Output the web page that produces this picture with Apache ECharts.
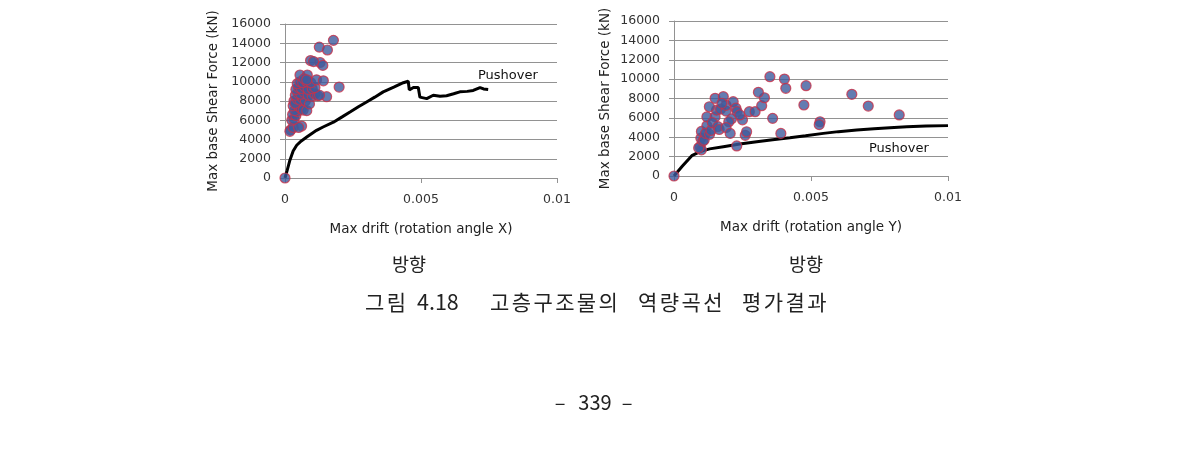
<!DOCTYPE html>
<html>
<head>
<meta charset="utf-8">
<script src="https://cdn.jsdelivr.net/npm/echarts@6/dist/echarts.min.js"></script>
<style>
html,body{margin:0;padding:0;background:#fff;}
#c{width:1190px;height:471px;}
</style>
</head>
<body>
<div id="c"></div>
<script>
// ---- data ----
const yTicksMax = 16000;
const yInterval = 2000;
const xMax = 0.01;
const xInterval = 0.005;

const scatterX = [
  [0,0],
  [0.00021,5000],[0.00018,4850],[0.00030,5250],[0.00061,5400],[0.00050,5250],
  [0.00025,6000],[0.00033,6100],[0.00028,6600],[0.00040,6500],[0.00045,6900],[0.00035,7000],
  [0.00030,7500],[0.00042,7600],[0.00052,7400],[0.00060,7200],[0.00067,7060],[0.00080,7000],
  [0.00033,8000],[0.00037,7760],[0.00045,8200],[0.00055,8100],[0.00065,8300],[0.00075,8000],[0.00090,7700],
  [0.00038,8600],[0.00048,8800],[0.00058,8700],[0.00070,8900],[0.00085,8600],[0.00100,8500],
  [0.00110,8750],[0.00120,8550],[0.00153,8450],[0.00127,8600],
  [0.00040,9200],[0.00050,9400],[0.00060,9300],[0.00072,9500],[0.00085,9200],[0.00100,9300],[0.00110,9400],
  [0.00045,9800],[0.00055,10000],[0.00065,9900],[0.00080,10000],[0.00095,9900],[0.00199,9450],
  [0.00055,10700],[0.00082,10700],[0.00070,10300],[0.00080,10200],[0.00116,10200],[0.00141,10100],
  [0.00094,12200],[0.00129,12000],[0.00139,11700],[0.00105,12100],
  [0.00126,13600],[0.00156,13300],[0.00178,14300]
];

const pushoverX = [
  [0,0],[0.00008,800],[0.00018,1850],[0.00030,2800],[0.00043,3400],[0.00060,3850],[0.00080,4250],
  [0.00100,4650],[0.00116,4950],[0.00140,5300],[0.00178,5800],[0.00210,6350],[0.00239,6850],
  [0.00270,7400],[0.00300,7900],[0.00330,8400],[0.00361,8950],[0.00400,9450],[0.00435,9900],
  [0.00453,10050],[0.00457,9150],[0.00472,9400],[0.00490,9400],[0.00496,8400],[0.00521,8250],
  [0.00545,8600],[0.00570,8500],[0.00594,8550],[0.00620,8750],[0.00643,8950],[0.00670,9000],
  [0.00692,9100],[0.00717,9400],[0.00730,9250],[0.00747,9200]
];

const scatterY = [
  [0,0],
  [0.00095,3030],[0.00100,2700],[0.00090,2900],[0.00098,3900],[0.00105,3600],[0.00100,4600],[0.00110,3700],
  [0.00120,5200],[0.00115,4400],[0.00120,6100],[0.00130,4300],[0.00135,4700],[0.00150,6100],[0.00140,5500],
  [0.00155,6800],[0.00160,5100],[0.00170,6900],[0.00165,4800],[0.00129,7150],[0.00150,8020],[0.00180,8190],
  [0.00190,6700],[0.00190,7300],[0.00175,7500],[0.00216,7670],[0.00226,7000],[0.00230,6650],[0.00210,5900],
  [0.00200,5600],[0.00250,5800],[0.00190,5000],[0.00205,4400],[0.00229,3100],[0.00260,4200],[0.00265,4570],
  [0.00275,6640],[0.00296,6640],[0.00240,6300],[0.00320,7260],[0.00330,8080],[0.00308,8640],
  [0.00350,10250],[0.00403,10010],[0.00408,9050],[0.00482,9320],[0.00474,7330],[0.00360,5950],
  [0.00390,4400],[0.00533,5600],[0.00530,5300],[0.00649,8430],[0.00709,7220],[0.00822,6300]
];

const pushoverY = [
  [0,0],[0.00030,1000],[0.00065,2100],[0.00095,2510],[0.00130,2800],[0.00180,3030],[0.00240,3300],
  [0.00302,3540],[0.00360,3750],[0.00423,3950],[0.00480,4150],[0.00545,4400],[0.00600,4580],
  [0.00667,4750],[0.00730,4880],[0.00788,4990],[0.00850,5080],[0.00920,5150],[0.01000,5200]
];

const xTitles = ['Max drift (rotation angle X)', 'Max drift (rotation angle Y)'];
const yTitle = 'Max base Shear Force (kN)';
const pushoverLabel = 'Pushover';
const subCaption = '방향';
const captionParts = ['그림', '4.18', '고층구조물의', '역량곡선', '평가결과'];
const pageParts = ['–', '339', '–'];

// ---- chart ----
const chart = echarts.init(document.getElementById('c'), null, {renderer: 'canvas'});
const fontF = '"DejaVu Sans", sans-serif';
const krF = '"Noto Sans CJK KR", sans-serif';
const gridColor = '#929292';

function xAxisCfg(i) {
  return {
    gridIndex: i, type: 'value', min: 0, max: xMax, interval: xInterval,
    name: xTitles[i], nameLocation: 'middle', nameGap: 44,
    nameTextStyle: {fontFamily: fontF, fontSize: 13.5, color: '#222'},
    axisLine: {show: true, lineStyle: {color: gridColor, width: 1}},
    axisTick: {show: true, length: 5, lineStyle: {color: gridColor}},
    axisLabel: {fontFamily: fontF, fontSize: 12.5, color: '#333', margin: 15,
      formatter: v => String(v)},
    splitLine: {show: false}
  };
}
function yAxisCfg(i, gap) {
  return {
    gridIndex: i, type: 'value', min: 0, max: yTicksMax, interval: yInterval,
    name: yTitle, nameLocation: 'middle', nameGap: gap, nameRotate: 90,
    nameTextStyle: {fontFamily: fontF, fontSize: 13.5, color: '#222'},
    axisLine: {show: true, lineStyle: {color: gridColor, width: 1}},
    axisTick: {show: true, length: 5, lineStyle: {color: gridColor}},
    axisLabel: {fontFamily: fontF, fontSize: 12.5, color: '#333', margin: 14,
      formatter: v => String(v)},
    splitLine: {show: true, lineStyle: {color: gridColor, width: 1}}
  };
}
const scatterStyle = {color: '#3d5b9e', borderColor: '#c8324a', borderWidth: 1.2};

// word start positions; Korean words are laid out glyph by glyph (wide tracking as in the source)
const captionX = [365, 417, 490, 638, 742];
const charStep = 21.7;
const pageX = [560, 595, 627];

const graphics = [
  {type: 'text', left: 478, top: 69, style: {text: pushoverLabel, font: '13px ' + fontF, fill: '#111'}},
  {type: 'text', left: 869, top: 142, style: {text: pushoverLabel, font: '13px ' + fontF, fill: '#111'}},
  {type: 'text', x: 409, y: 264, style: {text: subCaption, font: '18.5px ' + krF, fill: '#222', align: 'center', verticalAlign: 'middle'}},
  {type: 'text', x: 806, y: 264, style: {text: subCaption, font: '18.5px ' + krF, fill: '#222', align: 'center', verticalAlign: 'middle'}}
];
captionParts.forEach((t, i) => {
  if (/^[0-9.]+$/.test(t)) {
    graphics.push({type: 'text', x: captionX[i], y: 302,
      style: {text: t, font: '21.5px ' + krF, fill: '#222', align: 'left', verticalAlign: 'middle'}});
  } else {
    Array.from(t).forEach((ch, k) => graphics.push({type: 'text', x: captionX[i] + 9.7 + k * charStep, y: 302,
      style: {text: ch, font: '21px ' + krF, fill: '#222', align: 'center', verticalAlign: 'middle'}}));
  }
});
pageParts.forEach((t, i) => graphics.push({type: 'text', x: pageX[i], y: 402,
  style: {text: t, font: '20px ' + krF, fill: '#222', align: 'center', verticalAlign: 'middle'}}));

chart.setOption({
  animation: false,
  backgroundColor: '#fff',
  grid: [
    {left: 285, top: 24, width: 272, height: 154},
    {left: 674, top: 21, width: 274, height: 155}
  ],
  xAxis: [xAxisCfg(0), xAxisCfg(1)],
  yAxis: [yAxisCfg(0, 65), yAxisCfg(1, 62)],
  series: [
    {type: 'line', xAxisIndex: 0, yAxisIndex: 0, data: pushoverX, showSymbol: false, symbol: 'none',
     lineStyle: {color: '#000', width: 3}, z: 2},
    {type: 'scatter', xAxisIndex: 0, yAxisIndex: 0, data: scatterX, symbolSize: 10, itemStyle: scatterStyle, z: 3},
    {type: 'line', xAxisIndex: 1, yAxisIndex: 1, data: pushoverY, showSymbol: false, symbol: 'none',
     lineStyle: {color: '#000', width: 3}, z: 2},
    {type: 'scatter', xAxisIndex: 1, yAxisIndex: 1, data: scatterY, symbolSize: 10, itemStyle: scatterStyle, z: 3}
  ],
  graphic: graphics
});
</script>
</body>
</html>
